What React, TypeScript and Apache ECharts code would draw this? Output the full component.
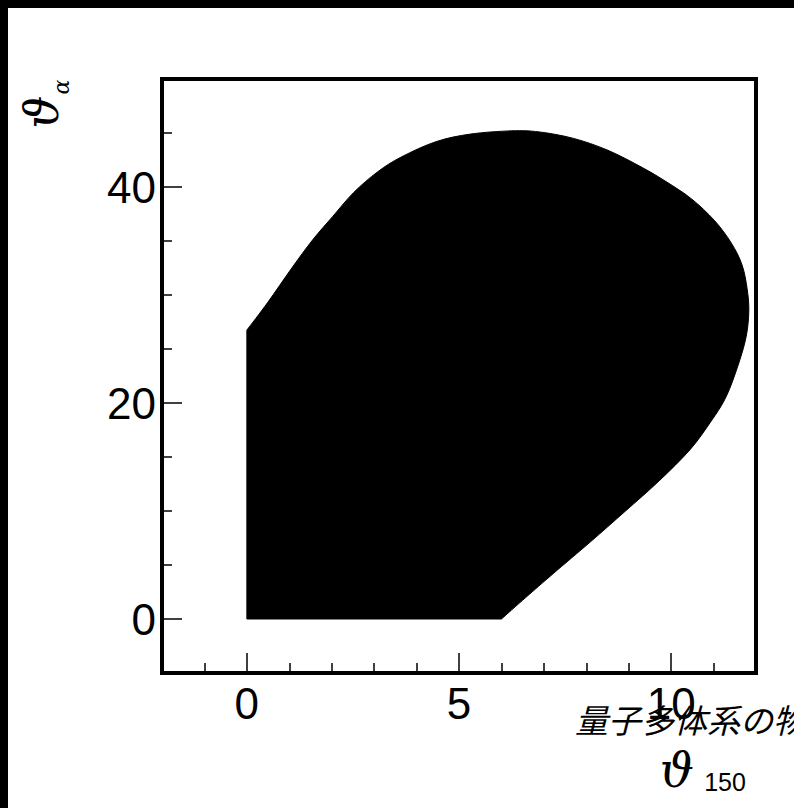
import React, { useEffect, useRef } from "react";
import * as echarts from "echarts";

// Boundary of the allowed (ϑ150, ϑα) region, traced counter-clockwise from the origin
const regionX = [0, 6, 6.57, 7.21, 8.1, 8.91, 9.72, 10.45, 10.94, 11.26, 11.5, 11.75, 11.83, 11.79, 11.67, 11.42, 11.02, 10.48, 9.88, 9.32, 8.51, 7.7, 6.89, 6.24, 5.27, 4.46, 3.65, 3.08, 2.52, 2.03, 1.55, 1.06, 0.49, 0];
const regionY = [0, 0, 1.98, 4.17, 7.15, 9.95, 12.8, 15.7, 18.3, 20.3, 22.6, 25.8, 28.4, 30.6, 32.8, 34.8, 36.9, 38.9, 40.5, 41.8, 43.4, 44.5, 45.1, 45.2, 44.9, 44.2, 42.8, 41.4, 39.5, 37.3, 35.1, 32.5, 29.3, 26.75];

// Axis ranges and tick positions
const xRange = [-2, 12];
const yRange = [-5, 50];
const xMajorTicks = [0, 5, 10];
const xMinorTicks = [-1, 1, 2, 3, 4, 6, 7, 8, 9, 11];
const yMajorTicks = [0, 20, 40];
const yMinorTicks = [5, 10, 15, 25, 30, 35, 45];

const caption = "量子多体系の物";

const LABEL_FONT = "Liberation Sans";
const SYMBOL_FONT = "DejaVu Serif";

// Straight edges along the axes, a smooth Catmull-Rom curve through the rest
function boundaryPath(pts: number[][]): string {
  const f = (v: number) => v.toFixed(2);
  const curve = pts.slice(1);
  let d = `M${f(pts[0][0])},${f(pts[0][1])} L${f(curve[0][0])},${f(curve[0][1])}`;
  for (let i = 0; i < curve.length - 1; i++) {
    const p0 = curve[Math.max(0, i - 1)];
    const p1 = curve[i];
    const p2 = curve[i + 1];
    const p3 = curve[Math.min(curve.length - 1, i + 2)];
    const c1 = [p1[0] + (p2[0] - p0[0]) / 6, p1[1] + (p2[1] - p0[1]) / 6];
    const c2 = [p2[0] - (p3[0] - p1[0]) / 6, p2[1] - (p3[1] - p1[1]) / 6];
    d += ` C${f(c1[0])},${f(c1[1])} ${f(c2[0])},${f(c2[1])} ${f(p2[0])},${f(p2[1])}`;
  }
  return d + " Z";
}

export default function App() {
  const ref = useRef<HTMLDivElement>(null);

  useEffect(() => {
    if (!ref.current) return;
    const chart = echarts.init(ref.current, null, { renderer: "svg" });

    const tickLine = { color: "#000", width: 1.5 };
    const labelStyle = { fontSize: 44, color: "#000", fontFamily: LABEL_FONT };

    const makeAxis = (range: number[], major: number[], minor: number[], margin: number) => [
      {
        type: "value",
        min: range[0],
        max: range[1],
        axisLine: { show: false, onZero: false },
        splitLine: { show: false },
        axisTick: { show: true, inside: true, length: 20, customValues: major, lineStyle: tickLine },
        axisLabel: { show: true, customValues: major, margin, ...labelStyle },
      },
      {
        type: "value",
        min: range[0],
        max: range[1],
        axisLine: { show: false, onZero: false },
        splitLine: { show: false },
        axisTick: { show: true, inside: true, length: 10, customValues: minor, lineStyle: tickLine },
        axisLabel: { show: false },
      },
    ];

    const xAxes = makeAxis(xRange, xMajorTicks, xMinorTicks, 8).map((a) => ({ ...a, position: "bottom" }));
    const yAxes = makeAxis(yRange, yMajorTicks, yMinorTicks, 6).map((a) => ({ ...a, position: "left" }));

    const symbolStyle = {
      fontStyle: "italic",
      fontFamily: SYMBOL_FONT,
      fill: "#000",
      align: "center",
      verticalAlign: "middle",
    };

    chart.setOption({
      animation: false,
      backgroundColor: "#fff",
      grid: {
        left: 154,
        top: 71,
        width: 594,
        height: 594,
        show: true,
        borderColor: "#000",
        borderWidth: 4,
        backgroundColor: "#fff",
      },
      xAxis: xAxes,
      yAxis: yAxes,
      series: [
        {
          type: "custom",
          xAxisIndex: 0,
          yAxisIndex: 0,
          clip: true,
          data: [[regionX[0], regionY[0]]],
          renderItem: (_params: any, api: any) => {
            const points = regionX.map((x, i) => api.coord([x, regionY[i]]));
            return {
              type: "path",
              shape: { pathData: boundaryPath(points) },
              style: { fill: "#000", stroke: "#000", lineWidth: 1 },
            };
          },
        },
      ],
      graphic: [
        {
          type: "text",
          x: 567,
          y: 711,
          style: {
            text: caption,
            fontSize: 33,
            fontStyle: "italic",
            fontFamily: "Noto Sans CJK JP",
            fill: "#000",
            align: "left",
            verticalAlign: "middle",
          },
        },
        {
          type: "text",
          x: 669,
          y: 762,
          style: { text: "ϑ", fontSize: 48, ...symbolStyle },
        },
        {
          type: "text",
          x: 717,
          y: 774,
          style: {
            text: "150",
            fontSize: 25,
            fontFamily: LABEL_FONT,
            fill: "#000",
            align: "center",
            verticalAlign: "middle",
          },
        },
        {
          type: "group",
          x: 34,
          y: 104,
          rotation: Math.PI / 2,
          children: [
            { type: "text", x: 0, y: 0, style: { text: "ϑ", fontSize: 46, ...symbolStyle } },
            { type: "text", x: 25, y: 19, style: { text: "α", fontSize: 22, ...symbolStyle } },
          ],
        },
      ],
    });

    return () => chart.dispose();
  }, []);

  return (
    <div style={{ position: "fixed", inset: 0, background: "#000" }}>
      <div
        ref={ref}
        style={{ position: "absolute", left: 8, top: 8, width: 786, height: 800, background: "#fff" }}
      />
    </div>
  );
}
